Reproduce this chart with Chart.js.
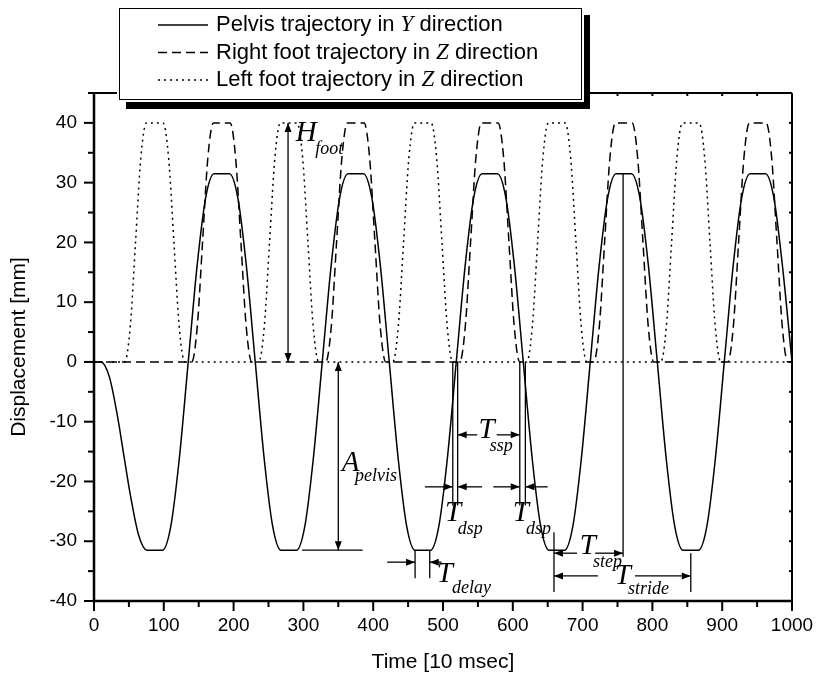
<!DOCTYPE html>
<html>
<head>
<meta charset="utf-8">
<script src="https://cdn.jsdelivr.net/npm/chart.js@4.4.1/dist/chart.umd.min.js"></script>
<style>
  html, body { margin: 0; padding: 0; background: #fff; }
  #wrap { width: 819px; height: 684px; }
</style>
</head>
<body>
<div id="wrap"><canvas id="gaitChart" width="819" height="684"></canvas></div>
<script>
// time in [10 msec], displacement in [mm]
var pelvisT = [0, 10, 22, 34, 43, 52, 64, 76,
  98, 110, 122, 135, 148, 160, 172,
  194, 206, 218, 231, 244, 256, 268,
  290, 302, 314, 327, 340, 352, 364,
  386, 398, 410, 423, 436, 448, 460,
  482, 494, 506, 519, 532, 544, 556,
  578, 590, 602, 615, 628, 640, 652,
  674, 686, 698, 711, 724, 736, 748,
  770, 782, 794, 807, 820, 832, 844,
  866, 878, 890, 903, 916, 928, 940,
  962, 974, 986, 1000];
var pelvisY = [0, 0, -2.5, -9.3, -15.8, -22.2, -29, -31.5,
  -31.5, -27.5, -16.4, 0, 16.4, 27.5, 31.5,
  31.5, 27.5, 16.4, 0, -16.4, -27.5, -31.5,
  -31.5, -27.5, -16.4, 0, 16.4, 27.5, 31.5,
  31.5, 27.5, 16.4, 0, -16.4, -27.5, -31.5,
  -31.5, -27.5, -16.4, 0, 16.4, 27.5, 31.5,
  31.5, 27.5, 16.4, 0, -16.4, -27.5, -31.5,
  -31.5, -27.5, -16.4, 0, 16.4, 27.5, 31.5,
  31.5, 27.5, 16.4, 0, -16.4, -27.5, -31.5,
  -31.5, -27.5, -16.4, 0, 16.4, 27.5, 31.5,
  31.5, 27.5, 16.4, 0];

var rightFootT = [0,
  140, 148, 155.5, 163, 171, 195, 203, 210.5, 218, 226,
  332, 340, 347.5, 355, 363, 387, 395, 402.5, 410, 418,
  524, 532, 539.5, 547, 555, 579, 587, 594.5, 602, 610,
  716, 724, 731.5, 739, 747, 771, 779, 786.5, 794, 802,
  908, 916, 923.5, 931, 939, 963, 971, 978.5, 986, 994,
  1000];
var rightFootY = [0,
  0, 6, 20, 34, 40, 40, 34, 20, 6, 0,
  0, 6, 20, 34, 40, 40, 34, 20, 6, 0,
  0, 6, 20, 34, 40, 40, 34, 20, 6, 0,
  0, 6, 20, 34, 40, 40, 34, 20, 6, 0,
  0, 6, 20, 34, 40, 40, 34, 20, 6, 0,
  0];

var leftFootT = [0,
  44, 52, 59.5, 67, 75, 99, 107, 114.5, 122, 130,
  236, 244, 251.5, 259, 267, 291, 299, 306.5, 314, 322,
  428, 436, 443.5, 451, 459, 483, 491, 498.5, 506, 514,
  620, 628, 635.5, 643, 651, 675, 683, 690.5, 698, 706,
  812, 820, 827.5, 835, 843, 867, 875, 882.5, 890, 898,
  1000];
var leftFootY = [0,
  0, 6, 20, 34, 40, 40, 34, 20, 6, 0,
  0, 6, 20, 34, 40, 40, 34, 20, 6, 0,
  0, 6, 20, 34, 40, 40, 34, 20, 6, 0,
  0, 6, 20, 34, 40, 40, 34, 20, 6, 0,
  0, 6, 20, 34, 40, 40, 34, 20, 6, 0,
  0];

var seriesNames = ['Pelvis trajectory in Y direction',
  'Right foot trajectory in Z direction',
  'Left foot trajectory in Z direction'];
var xTickLabels = ['0', '100', '200', '300', '400', '500', '600', '700', '800', '900', '1000'];
var yTickLabels = ['-40', '-30', '-20', '-10', '0', '10', '20', '30', '40'];

// annotation marks in data units: [t, v from, v to]
var markLines = [[514, 0, -24], [521, 0, -24], [610, 0, -24], [618, 0, -24],
  [460, -31.5, -36.2], [481, -31.5, -36.2],
  [659, -28.5, -38.5], [758, 31.5, -32.6], [855, -32, -38.5]];
var baseLines = [[298, 385, -31.5]];
var doubleArrows = [[278, 0, 40], [350, 0, -31.5]];
// [t from, v from, t to, v to] head at the "to" end
var arrows = [[549, -12.2, 521, -12.2], [577, -12.2, 610, -12.2],
  [474, -20.9, 514, -20.9], [556, -20.9, 521, -20.9],
  [572, -20.9, 610, -20.9], [650, -20.9, 618, -20.9],
  [420, -33.5, 460, -33.5], [498, -33.5, 481, -33.5],
  [692, -32, 659, -32], [718, -32, 758, -32],
  [722, -35.8, 659, -35.8], [775, -35.8, 855, -35.8]];
// [symbol, subscript, t, v, t sub, v sub]
var markLabels = [['H', 'foot', 289, 38.3, 317, 35.6],
  ['A', 'pelvis', 355, -17, 374, -19.2],
  ['T', 'ssp', 551, -11.4, 567, -14.1],
  ['T', 'dsp', 503, -25.3, 521, -28],
  ['T', 'dsp', 600, -25.3, 619, -28],
  ['T', 'delay', 491, -35.5, 513, -37.8],
  ['T', 'step', 696, -30.8, 715, -33.5],
  ['T', 'stride', 746, -35.8, 765, -38]];

var sansFont = '"Liberation Sans", Arial, sans-serif';
var serifFont = '"Liberation Serif", "Times New Roman", serif';

function toPoints(ts, vs) {
  var out = [];
  for (var i = 0; i < ts.length; i++) out.push({x: ts[i], y: vs[i]});
  return out;
}

function arrowHead(ctx, x1, y1, x2, y2) {
  var a = Math.atan2(y2 - y1, x2 - x1), len = 9, hw = 3.5;
  ctx.beginPath();
  ctx.moveTo(x2, y2);
  ctx.lineTo(x2 - len * Math.cos(a) + hw * Math.sin(a), y2 - len * Math.sin(a) - hw * Math.cos(a));
  ctx.lineTo(x2 - len * Math.cos(a) - hw * Math.sin(a), y2 - len * Math.sin(a) + hw * Math.cos(a));
  ctx.closePath();
  ctx.fill();
}

function seg(ctx, x1, y1, x2, y2) {
  ctx.beginPath();
  ctx.moveTo(x1, y1);
  ctx.lineTo(x2, y2);
  ctx.stroke();
}

var gaitMarks = {
  id: 'gaitMarks',
  afterDatasetsDraw: function(chart) {
    var ctx = chart.ctx, xs = chart.scales.x, ys = chart.scales.y;
    var px = function(t) { return xs.getPixelForValue(t); };
    var py = function(v) { return ys.getPixelForValue(v); };
    ctx.save();
    ctx.strokeStyle = '#000';
    ctx.fillStyle = '#000';
    ctx.lineWidth = 1.3;
    ctx.setLineDash([]);
    markLines.forEach(function(m) { seg(ctx, px(m[0]), py(m[1]), px(m[0]), py(m[2])); });
    baseLines.forEach(function(m) { seg(ctx, px(m[0]), py(m[2]), px(m[1]), py(m[2])); });
    doubleArrows.forEach(function(m) {
      var x = px(m[0]), ya = py(m[1]), yb = py(m[2]);
      seg(ctx, x, ya, x, yb);
      arrowHead(ctx, x, yb, x, ya);
      arrowHead(ctx, x, ya, x, yb);
    });
    arrows.forEach(function(m) {
      var x1 = px(m[0]), y1 = py(m[1]), x2 = px(m[2]), y2 = py(m[3]);
      seg(ctx, x1, y1, x2, y2);
      arrowHead(ctx, x1, y1, x2, y2);
    });
    ctx.textAlign = 'left';
    ctx.textBaseline = 'middle';
    markLabels.forEach(function(m) {
      ctx.font = 'italic 29px ' + serifFont;
      ctx.fillText(m[0], px(m[2]), py(m[3]));
      ctx.font = 'italic 18px ' + serifFont;
      ctx.fillText(m[1], px(m[4]), py(m[5]));
    });
    ctx.restore();
  },
  afterDraw: function(chart) {
    var ctx = chart.ctx, a = chart.chartArea, xs = chart.scales.x, ys = chart.scales.y;
    ctx.save();
    ctx.strokeStyle = '#000';
    ctx.setLineDash([]);
    // frame: heavy left/bottom axes, lighter top/right
    ctx.lineWidth = 2;
    seg(ctx, a.left, a.top, a.right, a.top);
    seg(ctx, a.right, a.top, a.right, a.bottom);
    ctx.lineWidth = 2.5;
    seg(ctx, a.left, a.top, a.left, a.bottom + 1);
    seg(ctx, a.left - 1, a.bottom, a.right + 1, a.bottom);
    // tick marks
    ctx.lineWidth = 2;
    xs.ticks.forEach(function(t) {
      var x = xs.getPixelForValue(t.value);
      var len = xTickLabels.indexOf(String(t.value)) >= 0 ? 10 : 6;
      seg(ctx, x, a.bottom, x, a.bottom + len);
      seg(ctx, x, a.top, x, a.top + 3);
    });
    ys.ticks.forEach(function(t) {
      var y = ys.getPixelForValue(t.value);
      var len = yTickLabels.indexOf(String(t.value)) >= 0 ? 10 : 6;
      seg(ctx, a.left - len, y, a.left, y);
      seg(ctx, a.right - 3, y, a.right, y);
    });
    // legend box with drop shadow
    ctx.fillStyle = '#000';
    ctx.fillRect(126, 15, 464, 94);
    ctx.fillStyle = '#fff';
    ctx.fillRect(117, 6, 467, 96);
    ctx.lineWidth = 1;
    ctx.strokeRect(119.5, 8.5, 462, 91);
    chart.data.datasets.forEach(function(ds, i) {
      var y = 25 + i * 27.5;
      ctx.lineWidth = 1.5;
      ctx.setLineDash(ds.borderDash || []);
      seg(ctx, 158, y, 208, y);
      ctx.setLineDash([]);
      var parts = ds.label.match(/^(.* in )([YZ])( direction)$/);
      var x = 216;
      ctx.fillStyle = '#000';
      ctx.textBaseline = 'middle';
      ctx.textAlign = 'left';
      ctx.font = '22px ' + sansFont;
      ctx.fillText(parts[1], x, y);
      x += ctx.measureText(parts[1]).width;
      ctx.font = 'italic 23px ' + serifFont;
      ctx.fillText(parts[2], x, y);
      x += ctx.measureText(parts[2]).width;
      ctx.font = '22px ' + sansFont;
      ctx.fillText(parts[3], x, y);
    });
    ctx.restore();
  }
};

var ctx = document.getElementById('gaitChart').getContext('2d');
var gaitChart = new Chart(ctx, {
  type: 'line',
  data: {
    datasets: [{
      label: seriesNames[0],
      data: toPoints(pelvisT, pelvisY),
      borderColor: '#000',
      borderWidth: 1.5,
      cubicInterpolationMode: 'monotone',
      pointRadius: 0,
      fill: false
    }, {
      label: seriesNames[1],
      data: toPoints(rightFootT, rightFootY),
      borderColor: '#000',
      borderWidth: 1.5,
      borderDash: [9, 5],
      cubicInterpolationMode: 'monotone',
      pointRadius: 0,
      fill: false
    }, {
      label: seriesNames[2],
      data: toPoints(leftFootT, leftFootY),
      borderColor: '#000',
      borderWidth: 1.5,
      borderDash: [2, 4],
      cubicInterpolationMode: 'monotone',
      pointRadius: 0,
      fill: false
    }]
  },
  options: {
    responsive: false,
    animation: false,
    layout: { padding: { left: 0, top: 93, right: 27, bottom: 0 } },
    plugins: {
      legend: { display: false },
      tooltip: { enabled: false }
    },
    scales: {
      x: {
        type: 'linear',
        min: 0,
        max: 1000,
        afterFit: function(s) { s.height = 83; },
        grid: { drawOnChartArea: false, color: 'rgba(0,0,0,0)', tickLength: 10 },
        border: { display: false },
        ticks: {
          stepSize: 50,
          autoSkip: false,
          maxRotation: 0,
          padding: 3,
          color: '#000',
          font: { family: sansFont, size: 19 },
          callback: function(v) { return xTickLabels.indexOf(String(v)) >= 0 ? String(v) : ''; }
        },
        title: {
          display: true,
          text: 'Time [10 msec]',
          color: '#000',
          font: { family: sansFont, size: 21 },
          padding: { top: 0, bottom: 9 }
        }
      },
      y: {
        min: -40,
        max: 45,
        afterFit: function(s) { s.width = 94; },
        grid: { drawOnChartArea: false, color: 'rgba(0,0,0,0)', tickLength: 10 },
        border: { display: false },
        ticks: {
          stepSize: 5,
          autoSkip: false,
          padding: 7,
          color: '#000',
          font: { family: sansFont, size: 19 },
          callback: function(v) { return yTickLabels.indexOf(String(v)) >= 0 ? String(v) : ''; }
        },
        title: {
          display: true,
          text: 'Displacement [mm]',
          color: '#000',
          font: { family: sansFont, size: 21 },
          padding: { top: 7, bottom: 0 }
        }
      }
    }
  },
  plugins: [gaitMarks]
});
</script>
</body>
</html>
